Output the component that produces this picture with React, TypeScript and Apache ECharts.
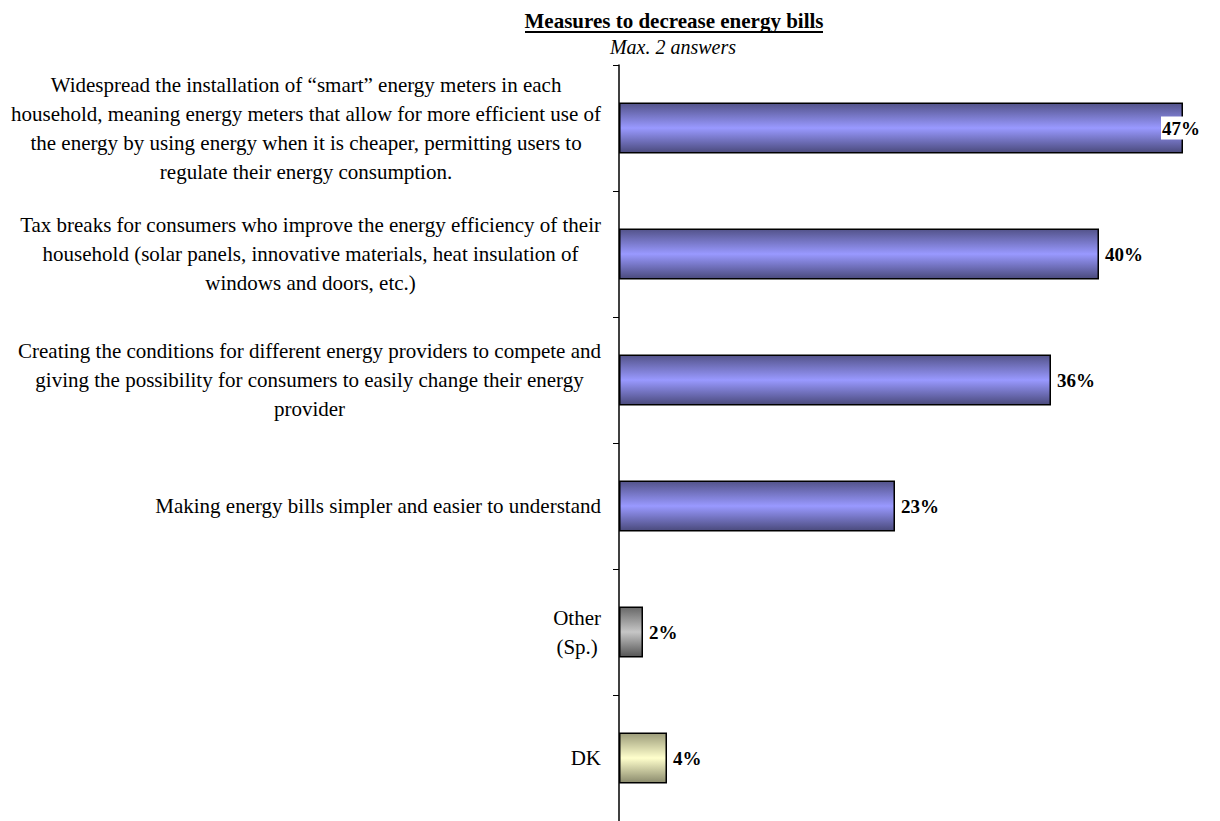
import React, { useEffect, useRef } from "react";
import * as echarts from "echarts";

// Survey answers (share of respondents, %)
const categories: string[] = [
  "Widespread the installation of \u201csmart\u201d energy meters in each\nhousehold, meaning energy meters that allow for more efficient use of\nthe energy by using energy when it is cheaper, permitting users to\nregulate their energy consumption.",
  "Tax breaks for consumers who improve the energy efficiency of their\nhousehold (solar panels, innovative materials, heat insulation of\nwindows and doors, etc.)",
  "Creating the conditions for different energy providers to compete and\ngiving the possibility for consumers to easily change their energy\nprovider",
  "Making energy bills simpler and easier to understand",
  "Other\n(Sp.)",
  "DK",
];
const values: number[] = [47, 40, 36, 23, 2, 4];

const titleText = "Measures to decrease energy bills";
const subtitleText = "Max. 2 answers";

// Fill style per bar: blue for the proposed measures, grey for "Other", pale yellow for "DK"
const fillKinds: string[] = ["blue", "blue", "blue", "blue", "grey", "yellow"];
const gradients: Record<string, [string, string, string]> = {
  blue: ["#53538a", "#9999ff", "#4a4a7c"],
  grey: ["#686868", "#c6c6c6", "#555555"],
  yellow: ["#9c9c7a", "#ffffcc", "#8a8a6c"],
};

const FONT = "'Liberation Serif', 'Times New Roman', serif";

function barFill(kind: string) {
  const [a, b, c] = gradients[kind];
  return new echarts.graphic.LinearGradient(0, 0, 0, 1, [
    { offset: 0, color: a },
    { offset: 0.5, color: b },
    { offset: 1, color: c },
  ]);
}

export default function App() {
  const ref = useRef<HTMLDivElement>(null);

  useEffect(() => {
    if (!ref.current) return;
    const chart = echarts.init(ref.current, undefined, { renderer: "svg" });

    const seriesData = values.map((v, i) => {
      const item: any = {
        value: v,
        itemStyle: { color: barFill(fillKinds[i]) },
      };
      if (i === 0) {
        // the longest bar's label sits over the bar's end on a white box
        item.label = {
          offset: [-28, 0],
          backgroundColor: "#ffffff",
          padding: [2, 1, 2, 1],
        };
      }
      return item;
    });

    chart.setOption({
      animation: false,
      backgroundColor: "#ffffff",
      grid: { left: 619, right: 1, top: 65, bottom: -6, containLabel: false },
      xAxis: {
        type: "value",
        min: 0,
        max: 50,
        show: false,
      },
      yAxis: {
        type: "category",
        inverse: true,
        data: categories,
        axisLine: { show: true, lineStyle: { color: "#000", width: 1.5 } },
        axisTick: { show: true, length: 6, lineStyle: { color: "#000", width: 1 } },
        splitLine: { show: false },
        axisLabel: {
          interval: 0,
          margin: 18,
          align: "right",
          color: "#000",
          fontFamily: FONT,
          fontSize: 21,
          lineHeight: 29,
          formatter: (v: string) =>
            v
              .split("\n")
              .map((l) => `{c|${l}}`)
              .join("\n"),
          rich: {
            c: {
              align: "center",
              color: "#000",
              fontFamily: FONT,
              fontSize: 21,
              lineHeight: 29,
            },
          },
        },
      },
      series: [
        {
          type: "bar",
          data: seriesData,
          barWidth: 51,
          itemStyle: { borderColor: "#000", borderWidth: 1.5 },
          label: {
            show: true,
            position: "right",
            distance: 6,
            formatter: "{c}%",
            color: "#000",
            fontFamily: FONT,
            fontWeight: "bold",
            fontSize: 19,
          },
        },
      ],
      graphic: [
        {
          type: "text",
          x: 674,
          y: 21,
          style: {
            text: titleText,
            fill: "#000",
            font: `bold 21px ${FONT}`,
            textAlign: "center",
            textVerticalAlign: "middle",
          },
        },
        {
          type: "line",
          shape: { x1: 525, y1: 32, x2: 823, y2: 32 },
          style: { stroke: "#000", lineWidth: 2 },
        },
        {
          type: "text",
          x: 673,
          y: 47,
          style: {
            text: subtitleText,
            fill: "#000",
            font: `italic 20px ${FONT}`,
            textAlign: "center",
            textVerticalAlign: "middle",
          },
        },
      ],
    });

    return () => chart.dispose();
  }, []);

  return (
    <div
      ref={ref}
      style={{ position: "absolute", left: 0, top: 0, width: 1220, height: 821 }}
    />
  );
}
